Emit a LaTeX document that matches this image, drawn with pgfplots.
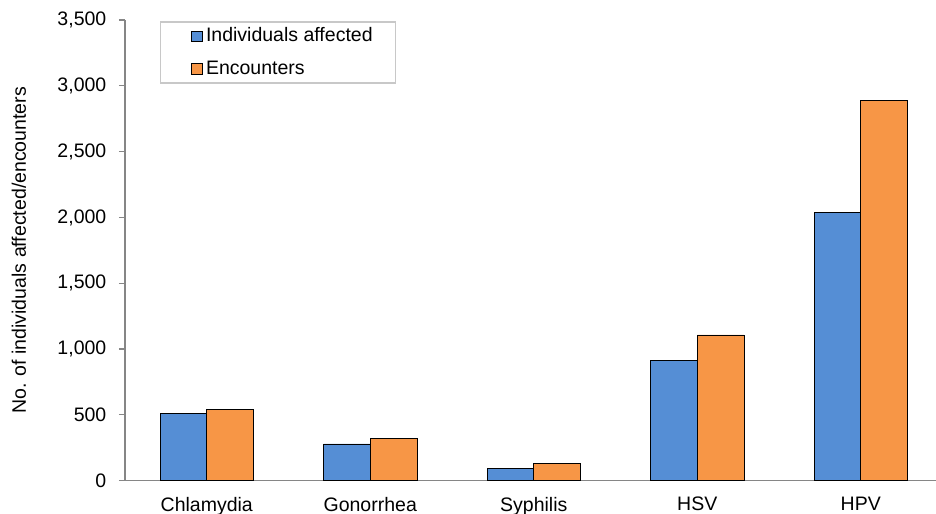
\documentclass[border=0pt]{standalone}
\usepackage{pgfplots}
\pgfplotsset{compat=1.18}
\usepackage{fontspec}
\setmainfont{Liberation Sans}

\definecolor{barblue}{RGB}{85,142,213}
\definecolor{barorange}{RGB}{247,150,70}
\definecolor{axisgray}{RGB}{134,134,134}
\definecolor{legendgray}{RGB}{200,200,200}

\begin{document}
\fontsize{19.5bp}{23bp}\selectfont
\begin{tikzpicture}
\useasboundingbox (-125bp,-33.3bp) rectangle (811bp,480.7bp);
\begin{axis}[
    at={(0,0)}, anchor=south west,
    scale only axis,
    width=817.5bp, height=460.7bp,
    ybar=0pt,
    bar width=46.7bp,
    xmin=-0.5, xmax=4.5,
    ymin=0, ymax=3500,
    ytick={0,500,...,3500},
    xtick=data,
    xticklabels={Chlamydia,Gonorrhea,Syphilis,HSV,HPV},
    axis x line*=bottom,
    axis y line*=left,
    axis line style={-, draw=axisgray, line width=1.5bp},
    x tick style={draw=none},
    y tick style={draw=axisgray, line width=1.2bp},
    tick align=outside,
    major tick length=6bp,
    scaled y ticks=false,
    /pgf/number format/.cd, 1000 sep={,}, assume math mode=true, /pgfplots/.cd,
    yticklabel={\pgfmathprintnumber[assume math mode=true,1000 sep={,}]{\tick}},
    yticklabel style={xshift=-6bp},
    xticklabel style={yshift=-3.5bp},
    ylabel={No. of individuals affected/encounters},
    every axis y label/.style={at={(rel axis cs:0,0.5)}, xshift=-106bp, rotate=90, anchor=center},
    legend cell align=left,
    legend image code/.code={%
        \path (-30bp,0bp);
        \draw[#1, draw=black, line width=0.8bp] (0bp,-5.3bp) rectangle (11bp,5.3bp);
    },
    legend style={
        at={(0.0428,0.9978)}, anchor=north west,
        draw=legendgray, line width=1.5bp,
        inner xsep=0pt, inner ysep=6bp,
        nodes={inner sep=0pt},
        row sep=16bp,
        /tikz/every odd column/.append style={column sep=3.5bp},
    },
]
\addplot[fill=barblue, draw=black, line width=0.8bp]
    coordinates {(0,512) (1,279) (2,96) (3,915) (4,2039)};
\addplot[fill=barorange, draw=black, line width=0.8bp]
    coordinates {(0,542) (1,319) (2,134) (3,1107) (4,2890)};
\legend{Individuals affected\hspace*{23bp},Encounters\hspace*{23bp}}
\end{axis}
\end{tikzpicture}
\end{document}
